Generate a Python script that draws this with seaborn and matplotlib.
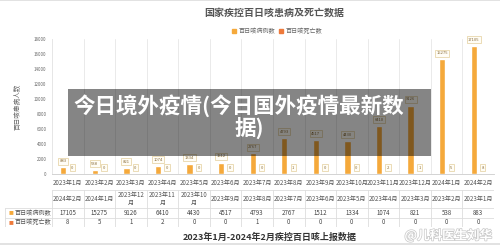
import numpy as np
import pandas as pd
import matplotlib
matplotlib.use('Agg')
import matplotlib.pyplot as plt
import matplotlib.patheffects as pe
from matplotlib.patches import Rectangle
import seaborn as sns

# --- data ---
months = ['2023年1月', '2023年2月', '2023年3月', '2023年4月', '2023年5月', '2023年6月',
          '2023年7月', '2023年8月', '2023年9月', '2023年10月', '2023年11月', '2023年12月',
          '2024年1月', '2024年2月']
cases = [883, 538, 821, 1074, 1334, 1512, 2767, 4793, 4517, 4430, 6410, 9126, 15275, 17105]
deaths = [0, 0, 0, 0, 0, 0, 0, 1, 0, 0, 2, 1, 5, 8]
series_names = ['百日咳病例数', '百日咳死亡数']

# table header uses reversed month order, some wrapped
table_months = ['2024年2月', '2024年1月', '2023年12\n月', '2023年11\n月', '2023年10\n月',
                '2023年9月', '2023年8月', '2023年7月', '2023年6月', '2023年5月',
                '2023年4月', '2023年3月', '2023年2月', '2023年1月']

CASE_C = '#F5A93B'
DEATH_C = '#EE7A3B'
GRID_C = '#e6e6e6'
TEXT_C = '#666666'

sns.set_theme(style='white')
plt.rcParams['font.family'] = ['Noto Sans CJK SC', 'DejaVu Sans']

df = pd.DataFrame({
    'month': months * 2,
    'series': [series_names[0]] * len(months) + [series_names[1]] * len(months),
    'value': cases + deaths,
})

W, H = 500, 245
fig = plt.figure(figsize=(W / 100, H / 100), dpi=100)
fig.patch.set_facecolor('white')

def px(x0, y0, x1, y1):
    return [x0 / W, 1 - y1 / H, (x1 - x0) / W, (y1 - y0) / H]

ax = fig.add_axes(px(52, 39, 494, 174))
sns.barplot(data=df, x='month', y='value', hue='series', order=months,
            hue_order=series_names, palette=[CASE_C, DEATH_C],
            width=0.57, gap=0.3, ax=ax, legend=False, saturation=1)

ax.set_ylim(0, 18000)
ax.set_yticks(np.arange(0, 18001, 2000))
ax.set_xlim(-0.5, len(months) - 0.5)
ax.set_xlabel('')
ax.set_ylabel('百日咳患病人数', fontsize=4.8, color=TEXT_C)
ax.yaxis.set_label_coords((22 - 52) / 442, 0.5)
ax.tick_params(axis='y', labelsize=3.2, colors=TEXT_C, length=0, pad=4)
ax.tick_params(axis='x', labelsize=4.4, colors='#555555', length=0, pad=3.5)
ax.set_xticks(np.arange(-0.5, len(months), 1), minor=True)
ax.grid(which='minor', axis='x', color=GRID_C, linewidth=0.6)
ax.grid(which='major', axis='both', visible=False)
for s in ['top', 'right']:
    ax.spines[s].set_visible(False)
ax.spines['left'].set_color(GRID_C)
ax.spines['bottom'].set_color('#cccccc')
ax.spines['left'].set_linewidth(0.6)
ax.spines['bottom'].set_linewidth(0.6)

box = dict(boxstyle='square,pad=0.35', facecolor='#fffdf6', edgecolor='#e3cf9c', linewidth=0.5)
for cont in ax.containers:
    ax.bar_label(cont, fmt='%d', fontsize=3, color='#8a6d3b', padding=3, bbox=box)

# title and legend
fig.text(274 / W, 1 - 13 / H, '国家疾控百日咳患病及死亡数据', ha='center', va='center',
         fontsize=7.2, fontweight='bold', color='#555555')
handles = [Rectangle((0, 0), 1, 1, color=CASE_C), Rectangle((0, 0), 1, 1, color=DEATH_C)]
fig.legend(handles, series_names, loc='center', bbox_to_anchor=(277 / W, 1 - 31 / H),
           ncol=2, frameon=False, fontsize=4.4, handlelength=0.7, handleheight=0.7,
           handletextpad=0.4, columnspacing=0.6, labelcolor=TEXT_C)

# data table under the chart
tab = fig.add_axes(px(5, 190, 494, 227))
cw = 442 / 14
x_left = -0.5 - 47 / cw
tab.set_xlim(x_left, len(months) - 0.5)
tab.set_ylim(37, 0)
tab.axis('off')
lc = '#dddddd'
lw = 0.6
tab.plot([-0.5, len(months) - 0.5], [0, 0], color=lc, lw=lw)
for yy in [18, 27.5, 37]:
    tab.plot([x_left, len(months) - 0.5], [yy, yy], color=lc, lw=lw)
for k in range(len(months) + 1):
    tab.plot([k - 0.5, k - 0.5], [0, 37], color=lc, lw=lw)
tab.plot([x_left, x_left], [18, 37], color=lc, lw=lw)

rev_cases = cases[::-1]
rev_deaths = deaths[::-1]
for i, lab in enumerate(table_months):
    tab.text(i, 9, lab, ha='center', va='center', fontsize=4.4, color='#555555', linespacing=1.1)
    tab.text(i, 22.75, str(rev_cases[i]), ha='center', va='center', fontsize=4.4, color='#444444')
    tab.text(i, 32.25, str(rev_deaths[i]), ha='center', va='center', fontsize=4.4, color='#444444')
for yy, name, c in [(22.75, series_names[0], CASE_C), (32.25, series_names[1], DEATH_C)]:
    tab.text(x_left + 0.12, yy, '■', ha='left', va='center', fontsize=3.5, color=c)
    tab.text(x_left + 0.3, yy, name, ha='left', va='center', fontsize=4.4, color='#555555')

# bottom caption + watermark
fig.text(270 / W, 1 - 237 / H, '2023年1月-2024年2月疾控百日咳上报数据', ha='center', va='center',
         fontsize=6.5, fontweight='bold', color='#333333')
fig.text(492 / W, 1 - 235.5 / H, '@儿科医生刘华', ha='right', va='center',
         fontsize=9, fontweight='bold', color='white',
         path_effects=[pe.withStroke(linewidth=1.0, foreground='#c8c8c8')])

# thin frame lines of the screenshot
fig.patches.append(Rectangle((0, 1 - 1.5 / H), 1, 1.5 / H, transform=fig.transFigure,
                             facecolor='#e2e2e2', edgecolor='none'))
fig.patches.append(Rectangle((0, 0), 1, 2.5 / H, transform=fig.transFigure,
                             facecolor='#e2e2e2', edgecolor='none'))

# overlay banner
fig.patches.append(Rectangle((68 / W, 1 - 156 / H), (431 - 68) / W, (156 - 89) / H,
                             transform=fig.transFigure, facecolor='black', alpha=0.48,
                             edgecolor='none', zorder=5))
fig.text(239 / W, 1 - 106 / H, '今日境外疫情(今日国外疫情最新数', ha='center', va='center',
         fontsize=15.5, fontweight='bold', color='white', zorder=6)
fig.text(249 / W, 1 - 128 / H, '据)', ha='center', va='center',
         fontsize=15.5, fontweight='bold', color='white', zorder=6)

fig.savefig('out.png', dpi=100)
